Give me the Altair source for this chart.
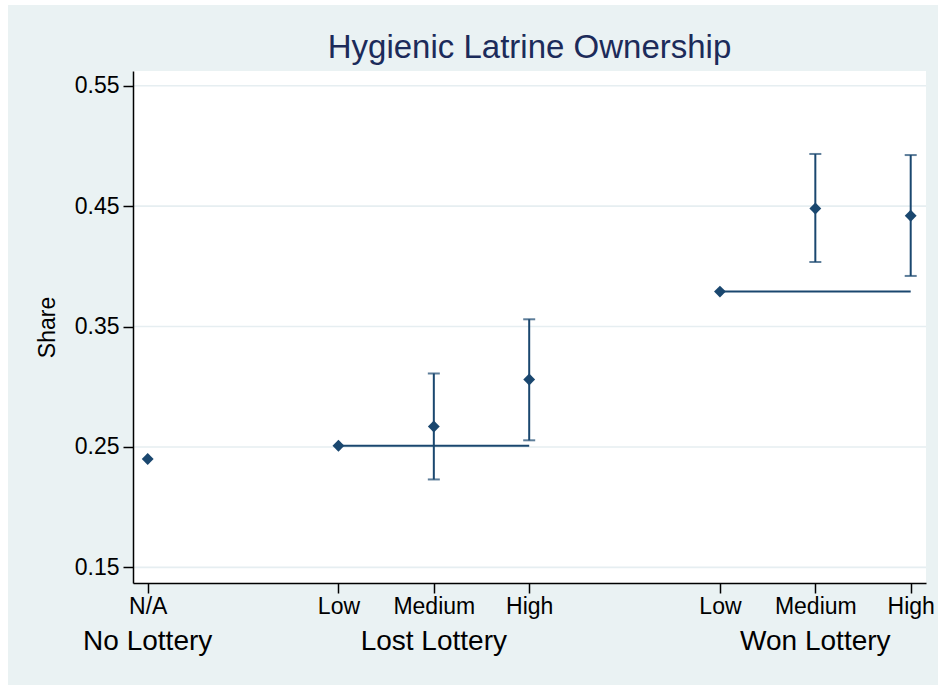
import altair as alt
import pandas as pd

# Positions along the x axis and their tick labels
x_pos = [0, 2, 3, 4, 6, 7, 8]
tick_labels = ["N/A", "Low", "Medium", "High", "Low", "Medium", "High"]

# Mean share of households with a hygienic latrine
share = [0.240, 0.251, 0.267, 0.306, 0.379, 0.448, 0.442]
# 95% confidence bounds (None where no interval is shown)
ci_low = [None, None, 0.223, 0.2555, None, 0.4036, 0.392]
ci_high = [None, None, 0.311, 0.356, None, 0.4933, 0.4924]

# Lottery groups and the x position their label is centred on
groups = ["No Lottery", "Lost Lottery", "Won Lottery"]
group_center = [0, 3, 7]

# Reference lines: the "Low" level carried across each lottery arm
ref_start = [2, 6]
ref_end = [4, 8]
ref_level = [share[1], share[4]]

y_ticks = [0.15, 0.25, 0.35, 0.45, 0.55]

W, H = 793, 512
NAVY = "#1A476F"
FONT = "Liberation Sans"
BG = "#EAF2F3"
PANEL_TOP = -66  # top edge of the light outer panel, relative to the plot

points = pd.DataFrame({"x": x_pos, "share": share})
ci = pd.DataFrame({"x": x_pos, "lo": ci_low, "hi": ci_high}).dropna()
refs = pd.DataFrame({"x": ref_start, "x2": ref_end, "y": ref_level})
grp = pd.DataFrame({"x": group_center, "label": groups})
grid = pd.DataFrame({"v": y_ticks})

label_lookup = [""] * (max(x_pos) + 1)
for p, lab in zip(x_pos, tick_labels):
    label_lookup[p] = lab
label_expr = "[" + ",".join(f"'{s}'" for s in label_lookup) + "][datum.value]"

x_scale = alt.Scale(domain=[-0.1541, 8.1604], nice=False, zero=False)
y_scale = alt.Scale(domain=[0.1370, 0.5622], nice=False, zero=False)

x_axis = alt.Axis(
    values=x_pos, labelExpr=label_expr, title=None, grid=False,
    labelFontSize=23, labelFont=FONT, labelColor="black", labelPadding=2,
    tickSize=10, tickWidth=1.5, tickColor="black",
    domainColor="black", domainWidth=1.5, labelFlush=False, zindex=1,
)
y_axis = alt.Axis(
    values=y_ticks, format=".2f", grid=False,
    labelFontSize=23, labelFont=FONT, labelColor="black", labelPadding=4,
    tickSize=10, tickWidth=1.5, tickColor="black",
    domainColor="black", domainWidth=1.5, zindex=1,
    title="Share", titleFont=FONT, titleFontSize=23, titleFontWeight="normal",
    titleColor="black", titleAngle=-90, titleX=-79, titleY=H / 2,
    titleAlign="center", titleBaseline="alphabetic",
)

# Outer light panel and white plot region
outer = alt.Chart(grid).mark_rect(color=BG).encode(
    x=alt.value(-125), x2=alt.value(805), y=alt.value(PANEL_TOP), y2=alt.value(614)
)
inner = alt.Chart(grid).mark_rect(color="white").encode(
    x=alt.value(0), x2=alt.value(W), y=alt.value(0), y2=alt.value(H)
)

gridlines = alt.Chart(grid).mark_rule(color="#E6EEF1", strokeWidth=1.6).encode(
    x=alt.value(0), x2=alt.value(W),
    y=alt.Y("v:Q", scale=y_scale, axis=y_axis),
)

ref_lines = alt.Chart(refs).mark_rule(color=NAVY, strokeWidth=2).encode(
    x=alt.X("x:Q", scale=x_scale, axis=x_axis),
    x2="x2:Q",
    y=alt.Y("y:Q", scale=y_scale),
)

ci_rules = alt.Chart(ci).mark_rule(color=NAVY, strokeWidth=2).encode(
    x=alt.X("x:Q", scale=x_scale), y=alt.Y("lo:Q", scale=y_scale), y2="hi:Q"
)
cap_lo = alt.Chart(ci).mark_tick(
    color=NAVY, orient="horizontal", size=12, thickness=2
).encode(x=alt.X("x:Q", scale=x_scale), y=alt.Y("lo:Q", scale=y_scale))
cap_hi = alt.Chart(ci).mark_tick(
    color=NAVY, orient="horizontal", size=12, thickness=2
).encode(x=alt.X("x:Q", scale=x_scale), y=alt.Y("hi:Q", scale=y_scale))

dots = alt.Chart(points).mark_point(
    shape="diamond", filled=True, size=140, color=NAVY, opacity=1
).encode(x=alt.X("x:Q", scale=x_scale), y=alt.Y("share:Q", scale=y_scale))

group_text = alt.Chart(grp).mark_text(
    font=FONT, fontSize=28, color="black", baseline="alphabetic", align="center"
).encode(
    x=alt.X("x:Q", scale=x_scale), y=alt.value(H + 67), text="label:N"
)

# The panel rect sets the top of the layout bounds, so shift the title
# down from there to sit just above the plot.
chart = alt.layer(
    outer, inner, gridlines, ref_lines, ci_rules, cap_lo, cap_hi, dots, group_text
).properties(
    width=W, height=H,
    title=alt.TitleParams(
        "Hygienic Latrine Ownership", font=FONT, fontSize=33,
        fontWeight="normal", color="#1C2B5A", anchor="middle",
        frame="group", baseline="alphabetic", offset=0, dy=86,
    ),
    autosize=alt.AutoSizeParams(type="none"),
    padding={"left": 133, "top": 71, "right": 12, "bottom": 102},
    background="white",
).configure_view(stroke=None)

chart.save("out.html", embed_options={"renderer": "svg", "actions": False})
